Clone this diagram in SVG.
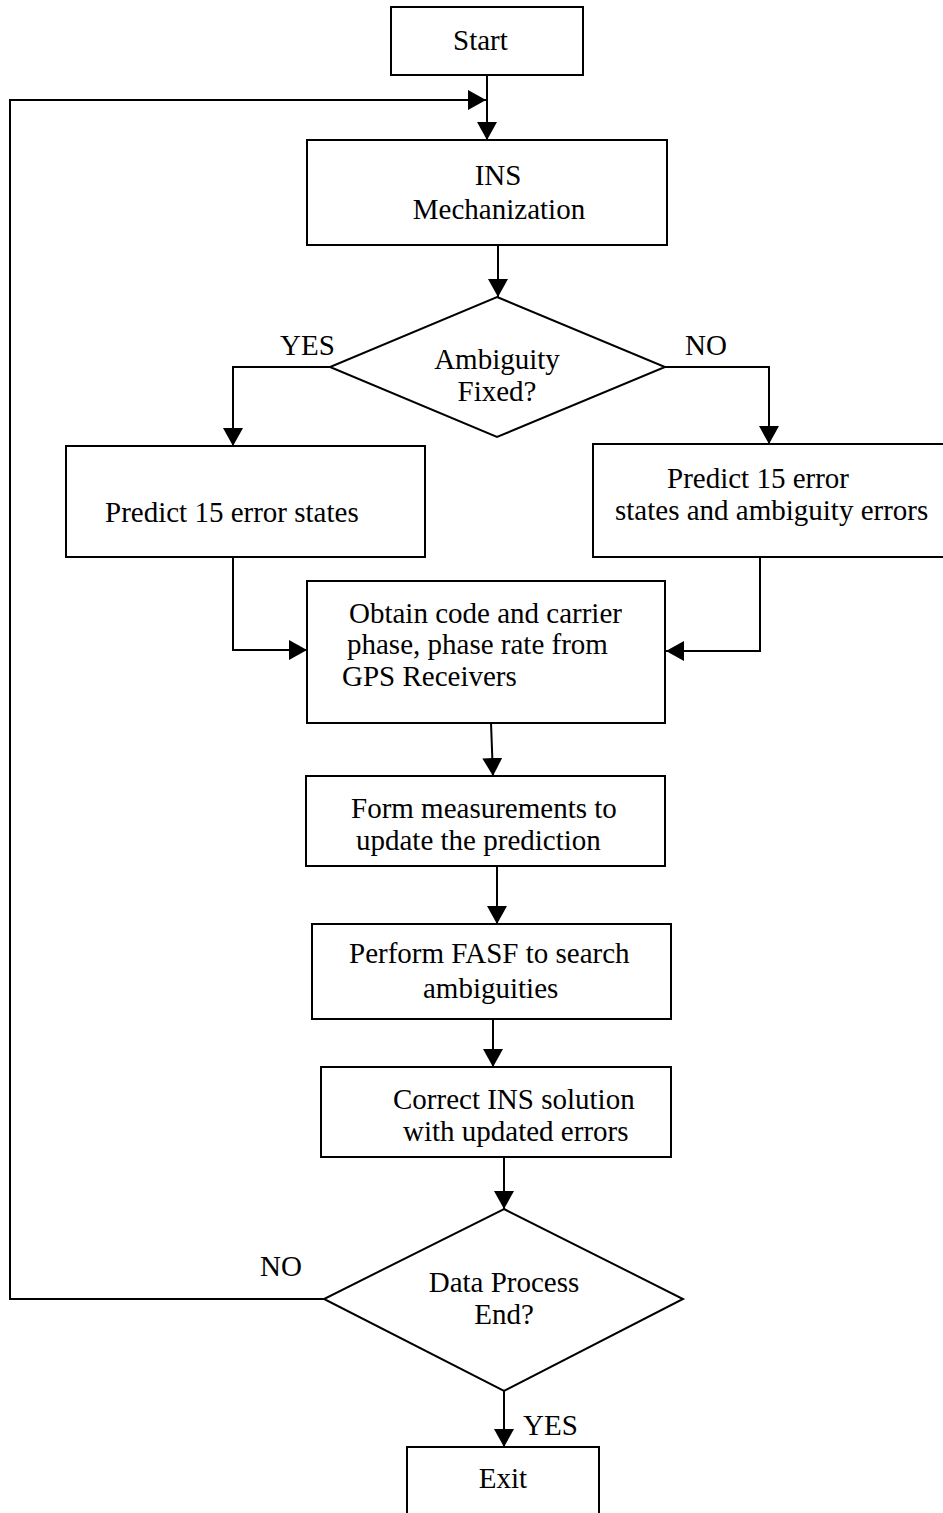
<svg xmlns="http://www.w3.org/2000/svg" width="943" height="1513" viewBox="0 0 943 1513">
  <style>
    .box { fill: #ffffff; stroke: #000000; stroke-width: 2; }
    .edge { fill: none; stroke: #000000; stroke-width: 2; }
    .arrow { marker-end: url(#head); }
    text { font-family: "Liberation Serif", "Times New Roman", serif; font-size: 29px; fill: #000000; }
    .c { text-anchor: middle; }
  </style>
  <defs>
    <marker id="head" viewBox="0 0 18 20" refX="18" refY="10" markerWidth="18" markerHeight="20" markerUnits="userSpaceOnUse" orient="auto">
      <path d="M0,0 L18,10 L0,20 Z" fill="#000000"/>
    </marker>
  </defs>

  <rect width="943" height="1513" fill="#ffffff"/>

  <!-- connectors -->
  <g id="connectors">
    <line class="edge arrow" x1="487" y1="75" x2="487" y2="140"/>
    <polyline class="edge arrow" points="324,1299 10,1299 10,100 486,100"/>
    <line class="edge arrow" x1="498" y1="245" x2="498" y2="297"/>
    <polyline class="edge arrow" points="330,367 233,367 233,446"/>
    <polyline class="edge arrow" points="665,367 769,367 769,444"/>
    <polyline class="edge arrow" points="233,557 233,650 307,650"/>
    <polyline class="edge arrow" points="760,557 760,651 666,651"/>
    <line class="edge arrow" x1="491" y1="723" x2="493" y2="776"/>
    <line class="edge arrow" x1="497" y1="866" x2="497" y2="924"/>
    <line class="edge arrow" x1="493" y1="1019" x2="493" y2="1067"/>
    <line class="edge arrow" x1="504" y1="1157" x2="504" y2="1209"/>
    <line class="edge arrow" x1="504" y1="1391" x2="504" y2="1447"/>
    <text x="280" y="355">YES</text>
    <text x="685" y="355">NO</text>
    <text x="260" y="1276">NO</text>
    <text x="523" y="1435">YES</text>
  </g>

  <g id="start">
    <rect class="box" x="391" y="7" width="192" height="68"/>
    <text x="453" y="50">Start</text>
  </g>

  <g id="ins-mechanization">
    <rect class="box" x="307" y="140" width="360" height="105"/>
    <text class="c" x="498" y="185">INS</text>
    <text class="c" x="499" y="219">Mechanization</text>
  </g>

  <g id="ambiguity-fixed">
    <polygon class="box" points="497,297 665,367 497,437 330,367"/>
    <text class="c" x="497" y="369">Ambiguity</text>
    <text class="c" x="497" y="401">Fixed?</text>
  </g>

  <g id="predict-fixed">
    <rect class="box" x="66" y="446" width="359" height="111"/>
    <text x="105" y="522">Predict 15 error states</text>
  </g>

  <g id="predict-float">
    <rect class="box" x="593" y="444" width="360" height="113"/>
    <text x="667" y="488">Predict 15 error</text>
    <text x="615" y="520">states and ambiguity errors</text>
  </g>

  <g id="obtain-gps">
    <rect class="box" x="307" y="581" width="358" height="142"/>
    <text x="349" y="623">Obtain code and carrier</text>
    <text x="347" y="654">phase, phase rate from</text>
    <text x="342" y="686">GPS Receivers</text>
  </g>

  <g id="form-measurements">
    <rect class="box" x="306" y="776" width="359" height="90"/>
    <text x="351" y="818">Form measurements to</text>
    <text x="356" y="850">update the prediction</text>
  </g>

  <g id="perform-fasf">
    <rect class="box" x="312" y="924" width="359" height="95"/>
    <text x="349" y="963">Perform FASF to search</text>
    <text x="423" y="998">ambiguities</text>
  </g>

  <g id="correct-ins">
    <rect class="box" x="321" y="1067" width="350" height="90"/>
    <text x="393" y="1109">Correct INS solution</text>
    <text x="403" y="1141">with updated errors</text>
  </g>

  <g id="data-process-end">
    <polygon class="box" points="504,1209 683,1299 504,1391 324,1299"/>
    <text class="c" x="504" y="1292">Data Process</text>
    <text class="c" x="504" y="1324">End?</text>
  </g>

  <g id="exit">
    <rect class="box" x="407" y="1447" width="192" height="80"/>
    <text class="c" x="503" y="1488">Exit</text>
  </g>
</svg>
